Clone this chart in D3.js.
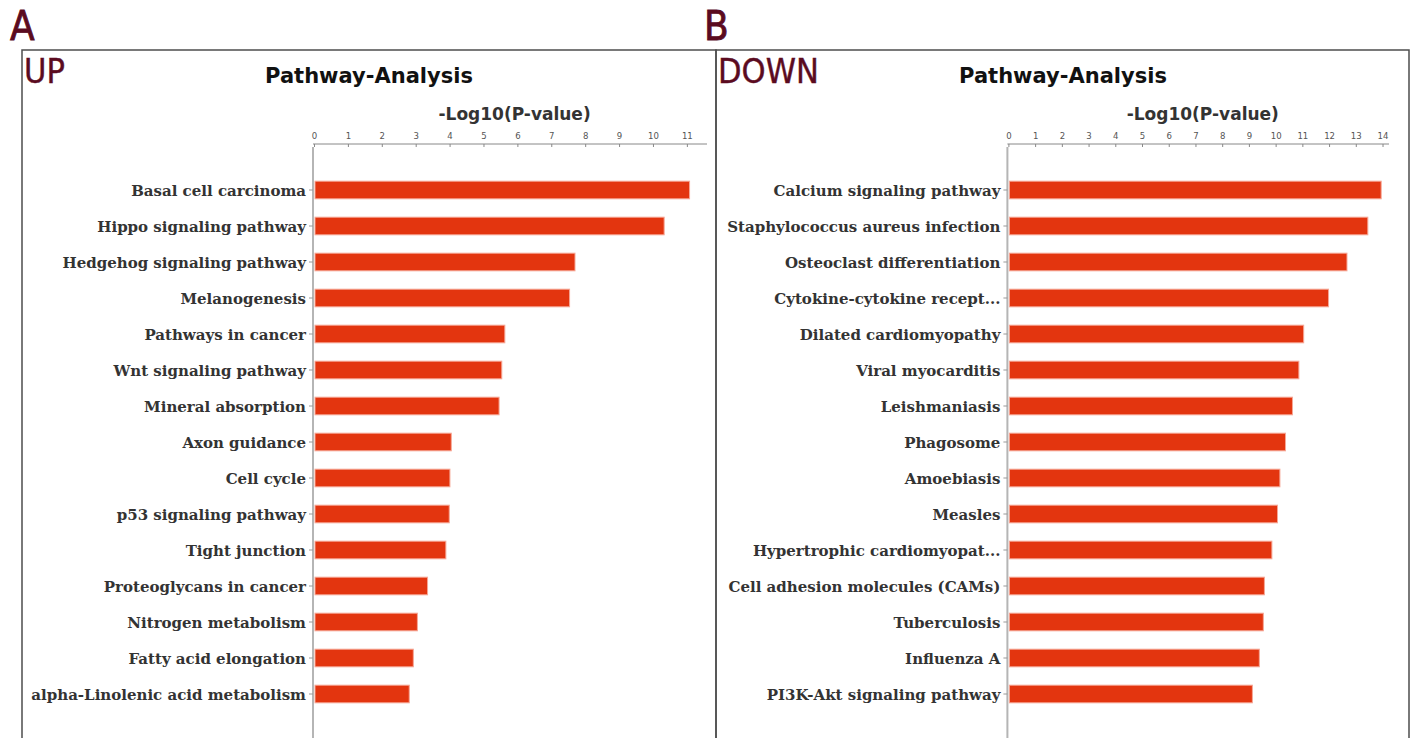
<!DOCTYPE html>
<html>
<head>
<meta charset="utf-8">
<script src="https://cdn.jsdelivr.net/npm/d3@7"></script>
<style>
  html, body { margin: 0; padding: 0; background: #fff; }
  svg { display: block; }
</style>
</head>
<body>
<svg id="chart" width="1411" height="738"></svg>
<script>
// Up-regulated pathways (panel A)
const upPathways = [
  "Basal cell carcinoma", "Hippo signaling pathway", "Hedgehog signaling pathway",
  "Melanogenesis", "Pathways in cancer", "Wnt signaling pathway", "Mineral absorption",
  "Axon guidance", "Cell cycle", "p53 signaling pathway", "Tight junction",
  "Proteoglycans in cancer", "Nitrogen metabolism", "Fatty acid elongation",
  "alpha-Linolenic acid metabolism"
];
const upValues = [11.08, 10.33, 7.7, 7.54, 5.63, 5.54, 5.46, 4.05, 4.01, 3.99, 3.89, 3.35, 3.05, 2.93, 2.81];
const upTicks = [0, 1, 2, 3, 4, 5, 6, 7, 8, 9, 10, 11];

// Down-regulated pathways (panel B)
const downPathways = [
  "Calcium signaling pathway", "Staphylococcus aureus infection", "Osteoclast differentiation",
  "Cytokine-cytokine recept...", "Dilated cardiomyopathy", "Viral myocarditis", "Leishmaniasis",
  "Phagosome", "Amoebiasis", "Measles", "Hypertrophic cardiomyopat...",
  "Cell adhesion molecules (CAMs)", "Tuberculosis", "Influenza A", "PI3K-Akt signaling pathway"
];
const downValues = [13.95, 13.45, 12.67, 11.98, 11.05, 10.87, 10.63, 10.37, 10.16, 10.07, 9.86, 9.58, 9.54, 9.39, 9.13];
const downTicks = [0, 1, 2, 3, 4, 5, 6, 7, 8, 9, 10, 11, 12, 13, 14];

const svg = d3.select("#chart");
const MAROON = "#5b0b1f";
const BAR = "#e3350f";

function drawPanel(opt) {
  const g = svg.append("g");

  // panel frame
  g.append("rect")
    .attr("x", opt.left).attr("y", 50)
    .attr("width", opt.width).attr("height", 720)
    .attr("fill", "none").attr("stroke", "#4d4d4d").attr("stroke-width", 1.5);

  // panel letter above the frame
  g.append("text")
    .attr("x", opt.left - 12).attr("y", 40)
    .attr("font-family", "'Liberation Sans Narrow', 'DejaVu Sans Condensed', sans-serif")
    .attr("font-size", 40).attr("fill", MAROON)
    .attr("stroke", MAROON).attr("stroke-width", 0.8)
    .text(opt.letter);

  // direction tag
  g.append("text")
    .attr("x", opt.left + 2).attr("y", 83)
    .attr("font-family", "'Liberation Sans Narrow', 'DejaVu Sans Condensed', sans-serif")
    .attr("font-size", 34).attr("fill", MAROON)
    .attr("stroke", MAROON).attr("stroke-width", 0.4)
    .text(opt.tag);

  // title
  g.append("text")
    .attr("x", opt.titleX).attr("y", 83)
    .attr("text-anchor", "middle")
    .attr("font-family", "'DejaVu Sans', sans-serif")
    .attr("font-weight", "bold").attr("font-size", 21).attr("fill", "#111")
    .text("Pathway-Analysis");

  const x = d3.scaleLinear().domain([0, opt.max]).range([opt.x0, opt.x1]);
  const y = d3.scaleBand().domain(opt.names).range([172, 712])
    .paddingInner(0.51).paddingOuter(0.255);

  // axis title
  g.append("text")
    .attr("x", (opt.x0 + opt.x1) / 2 + 4).attr("y", 120)
    .attr("text-anchor", "middle")
    .attr("font-family", "'DejaVu Sans', sans-serif")
    .attr("font-weight", "bold").attr("font-size", 17).attr("fill", "#333")
    .text("-Log10(P-value)");

  // top value axis
  const xAxis = g.append("g")
    .attr("transform", "translate(0,144)")
    .call(d3.axisTop(x).tickValues(opt.ticks).tickFormat(d3.format("d"))
      .tickSizeInner(-3).tickSizeOuter(0).tickPadding(10));
  xAxis.select(".domain").attr("stroke", "#888").attr("stroke-width", 1)
    .attr("d", `M${opt.x0 - 1},0H${opt.axisEnd}`);
  xAxis.selectAll(".tick line").attr("stroke", "#888");
  xAxis.selectAll(".tick text")
    .attr("y", -5)
    .attr("font-family", "'DejaVu Sans Condensed', 'DejaVu Sans', sans-serif")
    .attr("font-size", 9.5).attr("fill", "#555");

  // category axis
  const yAxis = g.append("g")
    .attr("transform", `translate(${opt.x0 - 1},0)`)
    .call(d3.axisLeft(y).tickSizeInner(4).tickSizeOuter(0).tickPadding(3));
  yAxis.select(".domain").attr("stroke", "#b5b5b5").attr("stroke-width", 2)
    .attr("d", "M0,147V738");
  yAxis.selectAll(".tick line").attr("stroke", "#999");
  yAxis.selectAll(".tick text")
    .attr("dy", "0.4em")
    .attr("font-family", "'DejaVu Serif', serif")
    .attr("font-weight", "bold").attr("font-size", 15).attr("fill", "#333");

  // bars
  g.append("g").selectAll("rect")
    .data(opt.names.map((n, i) => ({ name: n, value: opt.values[i] })))
    .join("rect")
    .attr("x", x(0) + 1)
    .attr("y", d => y(d.name))
    .attr("width", d => x(d.value) - x(0) - 1)
    .attr("height", y.bandwidth())
    .attr("fill", BAR)
    .attr("stroke", "#f6a796").attr("stroke-width", 1);
}

drawPanel({
  letter: "A", tag: "UP", left: 22, width: 694, titleX: 369,
  names: upPathways, values: upValues, ticks: upTicks,
  max: 11.6, x0: 314, x1: 707.2, axisEnd: 707
});

drawPanel({
  letter: "B", tag: "DOWN", left: 716, width: 693, titleX: 1063,
  names: downPathways, values: downValues, ticks: downTicks,
  max: 14.25, x0: 1008.4, x1: 1389.2, axisEnd: 1389
});
</script>
</body>
</html>
